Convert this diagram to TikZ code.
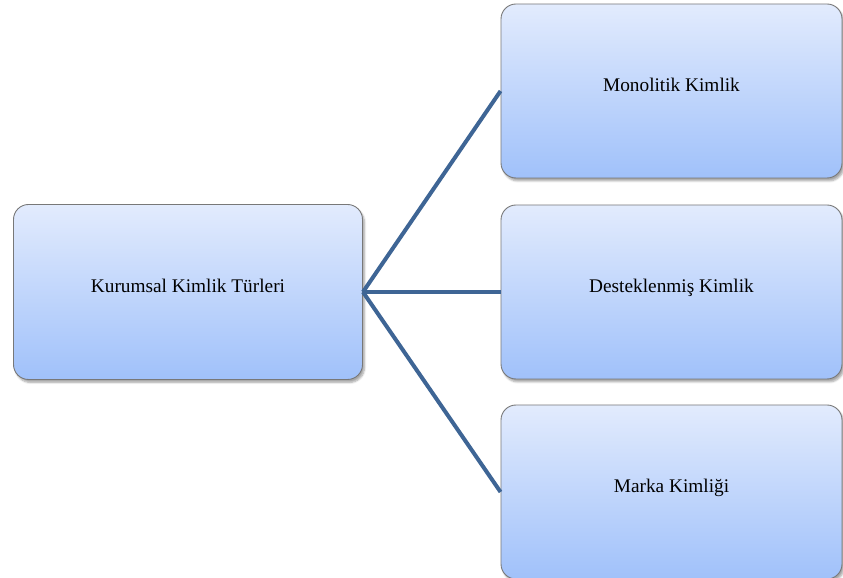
\documentclass[tikz,border=0pt]{standalone}
\usepackage{fontspec}
\setmainfont{Liberation Serif}
\usetikzlibrary{shadows.blur}
\definecolor{boxtop}{RGB}{226,235,253}
\definecolor{boxbot}{RGB}{160,193,250}
\definecolor{boxedge}{RGB}{120,120,120}
\definecolor{linkblue}{RGB}{62,101,149}
\tikzset{
  itembox/.style={rectangle, rounded corners=15pt, draw=boxedge, line width=0.9pt,
    top color=boxtop, bottom color=boxbot,
    blur shadow={shadow xshift=2pt, shadow yshift=-3pt, shadow blur steps=6, shadow opacity=35},
    font=\fontsize{19.3pt}{23pt}\selectfont, text height=13pt, text depth=11pt},
  leftbox/.style={itembox, minimum width=349pt, minimum height=175pt},
  rightbox/.style={itembox, minimum width=341pt, minimum height=174pt},
  link/.style={draw=linkblue, line width=4pt}
}
\begin{document}
\begin{tikzpicture}[x=1pt,y=1pt]
\useasboundingbox (0,0) rectangle (843,578);
\node[leftbox] (root) at (188,286) {Kurumsal Kimlik Türleri};
\node[rightbox] (mono) at (671.5,487) {Monolitik Kimlik};
\node[rightbox] (dest) at (671.5,286) {Desteklenmiş Kimlik};
\node[rightbox] (marka) at (671.5,86) {Marka Kimliği};
\draw[link] (root.east) -- (mono.west);
\draw[link] (root.east) -- (dest.west);
\draw[link] (root.east) -- (marka.west);
\end{tikzpicture}
\end{document}
